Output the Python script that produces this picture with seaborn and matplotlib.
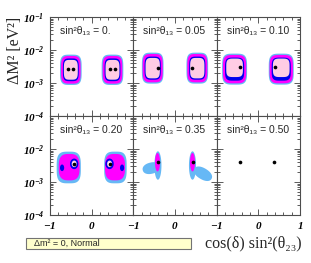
import numpy as np
import matplotlib
matplotlib.use('Agg')
import matplotlib.pyplot as plt
from matplotlib.ticker import FixedLocator, MultipleLocator, LogLocator, NullFormatter
import matplotlib.patches as mpatches
import pandas as pd
import seaborn as sns

# panel labels (sin^2 theta13)
sin2_t13 = ['0.', '0.05', '0.10', '0.20', '0.35', '0.50']

# allowed regions, one entry per island and C.L. level
# (panel, level, cos_d*sin2_t23, log10 dm2, half width, half height [decades], squareness, tilt [deg])
# level 0 = 99% (light blue), 1 = 95% (magenta), 2 = 90% (blue), 3 = 68% (pink), 4 = core (white)
region_panel = [0, 0, 0, 0, 0, 0, 0, 0,
                1, 1, 1, 1, 1, 1, 1, 1,
                2, 2, 2, 2, 2, 2, 2, 2,
                3, 3, 3, 3, 3, 3, 3, 3, 3, 3, 3, 3,
                4, 4, 4, 4, 4, 4]
region_level = [0, 1, 2, 3, 0, 1, 2, 3,
                0, 1, 2, 3, 0, 1, 2, 3,
                0, 1, 2, 3, 0, 1, 2, 3,
                0, 1, 2, 2, 3, 4, 0, 1, 2, 2, 3, 4,
                0, 0, 1, 0, 0, 1]
region_x = [-0.50, -0.50, -0.50, -0.50, 0.50, 0.50, 0.50, 0.50,
            -0.535, -0.535, -0.535, -0.535, 0.535, 0.535, 0.535, 0.535,
            -0.57, -0.57, -0.57, -0.57, 0.55, 0.55, 0.55, 0.55,
            -0.55, -0.54, -0.71, -0.42, -0.42, -0.42, 0.57, 0.56, 0.73, 0.43, 0.43, 0.43,
            -0.41, -0.57, -0.42, 0.42, 0.67, 0.42]
region_y = [-2.60, -2.60, -2.60, -2.60, -2.60, -2.60, -2.60, -2.60,
            -2.55, -2.55, -2.55, -2.55, -2.55, -2.55, -2.55, -2.55,
            -2.58, -2.58, -2.58, -2.54, -2.58, -2.58, -2.58, -2.54,
            -2.56, -2.55, -2.57, -2.45, -2.45, -2.45, -2.56, -2.55, -2.57, -2.45, -2.45, -2.45,
            -2.50, -2.58, -2.40, -2.50, -2.75, -2.40]
region_hw = [0.26, 0.235, 0.19, 0.167, 0.26, 0.235, 0.19, 0.167,
             0.26, 0.24, 0.195, 0.172, 0.26, 0.24, 0.195, 0.172,
             0.30, 0.28, 0.23, 0.20, 0.30, 0.28, 0.23, 0.20,
             0.29, 0.25, 0.05, 0.10, 0.06, 0.035, 0.27, 0.24, 0.05, 0.10, 0.06, 0.035,
             0.085, 0.21, 0.06, 0.085, 0.24, 0.06]
region_hh = [0.46, 0.42, 0.345, 0.30, 0.46, 0.42, 0.345, 0.30,
             0.47, 0.43, 0.35, 0.31, 0.47, 0.43, 0.35, 0.31,
             0.47, 0.43, 0.35, 0.28, 0.47, 0.43, 0.35, 0.28,
             0.48, 0.40, 0.10, 0.16, 0.10, 0.06, 0.48, 0.40, 0.10, 0.16, 0.10, 0.06,
             0.43, 0.17, 0.28, 0.43, 0.17, 0.28]
region_sq = [4, 4, 4, 4, 4, 4, 4, 4,
             4, 4, 4, 4, 4, 4, 4, 4,
             4, 4, 4, 4, 4, 4, 4, 4,
             3.5, 3, 2, 2, 2, 2, 3.5, 3, 2, 2, 2, 2,
             2, 2.2, 2, 2, 2.2, 2]
region_tilt = [0] * 36 + [0, 14, 0, 0, -31, 0]

# best fit points
bf_panel = [0, 0, 0, 0, 1, 1, 2, 2, 3, 3, 4, 4, 5, 5]
bf_x = [-0.56, -0.44, 0.43, 0.55, -0.41, 0.41, -0.45, 0.40, -0.42, 0.43, -0.41, 0.42, -0.43, 0.37]
bf_logdm2 = [-2.58, -2.58, -2.58, -2.58, -2.56, -2.56, -2.50, -2.50, -2.45, -2.45, -2.40, -2.40, -2.40, -2.40]

level_colors = ['#66b8f5', '#ff00ff', '#0000ee', '#ffcce4', '#ffffff']

regions = pd.DataFrame({'panel': region_panel, 'level': region_level, 'x': region_x, 'y': region_y,
                        'hw': region_hw, 'hh': region_hh, 'sq': region_sq, 'tilt': region_tilt})
bestfit = pd.DataFrame({'panel': bf_panel, 'x': bf_x, 'dm2': [10 ** v for v in bf_logdm2]})

sns.set_style('ticks')
plt.rcParams['font.family'] = ['Liberation Sans', 'DejaVu Sans']
plt.rcParams['mathtext.fontset'] = 'custom'
plt.rcParams['mathtext.rm'] = 'Liberation Serif'
plt.rcParams['mathtext.it'] = 'Liberation Serif:italic'
plt.rcParams['mathtext.bf'] = 'Liberation Serif:italic:bold'

W, H = 311, 263
fig, axes = plt.subplots(2, 3, figsize=(W / 100, H / 100), dpi=100)
fig.subplots_adjust(left=50 / W, right=300 / W, top=1 - 17 / H, bottom=1 - 215 / H, wspace=0, hspace=0)

# pixels per x unit and per decade, for tilting blobs on screen
sx = (250 / 3) / 2
sy = (198 / 2) / 3


def blob(ax, r):
    t = np.linspace(0, 2 * np.pi, 240)
    c, s = np.cos(t), np.sin(t)
    p = 2.0 / r.sq
    u = np.sign(c) * np.abs(c) ** p * r.hw * sx
    v = np.sign(s) * np.abs(s) ** p * r.hh * sy
    a = np.deg2rad(r.tilt)
    X = u * np.cos(a) - v * np.sin(a)
    Y = u * np.sin(a) + v * np.cos(a)
    ax.fill(r.x + X / sx, 10 ** (r.y + Y / sy), color=level_colors[int(r.level)], lw=0, zorder=2 + r.level)


for i, ax in enumerate(axes.flat):
    row, col = divmod(i, 3)
    ax.set_xlim(-1, 1)
    ax.set_yscale('log')
    ax.set_ylim(1e-4, 1e-1)

    sub = regions[regions.panel == i].sort_values('level', kind='stable')
    for r in sub.itertuples():
        blob(ax, r)

    sns.scatterplot(data=bestfit[bestfit.panel == i], x='x', y='dm2', ax=ax, color='black',
                    s=7, linewidth=0, zorder=10, legend=False)

    ax.text(0.12, 0.86, 'sin²θ₁₃ = ' + sin2_t13[i], transform=ax.transAxes, fontsize=7.5,
            va='center', ha='left')

    ax.xaxis.set_major_locator(FixedLocator([-1, 0, 1]))
    ax.xaxis.set_minor_locator(MultipleLocator(0.2))
    ax.yaxis.set_major_locator(FixedLocator([1e-4, 1e-3, 1e-2, 1e-1]))
    ax.yaxis.set_minor_locator(LogLocator(base=10, subs=np.arange(2, 10)))
    ax.yaxis.set_minor_formatter(NullFormatter())
    ax.tick_params(which='both', direction='in', top=True, right=True, width=0.6, colors='0.25',
                   labelcolor='black', labelsize=8)
    ax.tick_params(axis='x', pad=3.5)
    ax.tick_params(axis='y', pad=4)
    ax.tick_params(which='major', length=4)
    ax.tick_params(which='minor', length=2)
    for sp in ax.spines.values():
        sp.set_color('0.3')
        sp.set_linewidth(0.8)
    ax.set_xlabel('')
    ax.set_ylabel('')

    if col == 0:
        labs = [r'$\mathbf{10^{-4}}$', r'$\mathbf{10^{-3}}$', r'$\mathbf{10^{-2}}$', r'$\mathbf{10^{-1}}$']
        if row == 1:
            labs[-1] = ''
        ax.set_yticklabels(labs)
    else:
        ax.set_yticklabels([])
    if row == 1:
        xl = [r'$\mathbf{-1}$', r'$\mathbf{0}$', r'$\mathbf{1}$' if col == 2 else '']
        ax.set_xticklabels(xl)
    else:
        ax.set_xticklabels([])

fig.text(15 / W, 1 - 50 / H, 'ΔM² [eV²]', rotation=90, ha='center', va='center', fontsize=11.5,
         family=['Liberation Serif', 'DejaVu Serif'])
fig.text(253 / W, 1 - 243 / H, 'cos(δ) sin²(θ₂₃)', ha='center', va='center', fontsize=11.5,
         family=['Liberation Serif', 'DejaVu Serif'])

box = mpatches.Rectangle((26 / W, 1 - 249 / H), 165 / W, 11.5 / H, transform=fig.transFigure,
                         facecolor='#ffffcc', edgecolor='0.45', lw=0.8)
fig.patches.append(box)
fig.text(34 / W, 1 - 243.5 / H, 'Δm² = 0, Normal', ha='left', va='center', fontsize=6.5)

fig.savefig('out.png', dpi=100)
